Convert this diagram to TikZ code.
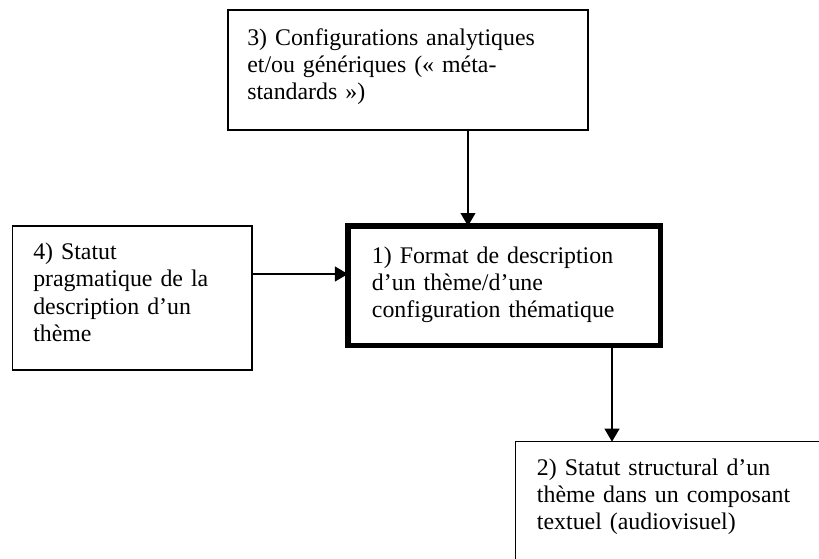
\documentclass[tikz,border=0pt]{standalone}
\usepackage{fontspec}
\setmainfont{Liberation Serif}
\usetikzlibrary{arrows.meta}
\tikzset{
  box/.style={draw, line width=1pt, inner sep=0pt, outer sep=0pt},
  mainbox/.style={draw, line width=4.1pt, inner sep=0pt, outer sep=0pt},
  txt/.style={anchor=base west, inner sep=0pt, align=left, text width=300pt,
    font=\fontsize{17.9pt}{20.6pt}\selectfont},
  arr/.style={line width=1.5pt, -{Triangle[length=9.75pt,width=11pt]}}
}
\begin{document}
\begin{tikzpicture}[x=0.75pt,y=-0.75pt]
\useasboundingbox (0,0) rectangle (819,558);
\clip (0,0) rectangle (819,558);
% boxes
\node[box, minimum width=270pt, minimum height=90pt] (b3) at (408,70) {};
\node[box, minimum width=179.8pt, minimum height=108pt] (b4) at (132.15,298) {};
\node[mainbox, minimum width=234.4pt, minimum height=89.6pt] (b1) at (504.25,285.75) {};
\node[box, minimum width=235.7pt, minimum height=96.2pt] (b2) at (672.85,505.85) {};
% texts
\node[txt] (t3) at (247,45) {3) Configurations analytiques\\et/ou génériques («~méta-\\standards~»)};
\node[txt] (t4) at (33,259.5) {4) Statut\\pragmatique de la\\description d’un\\thème};
\node[txt] (t1) at (371.7,263) {1) Format de description\\d’un thème/d’une\\configuration thématique};
\node[txt] (t2) at (536.7,475) {2) Statut structural d’un\\thème dans un composant\\textuel (audiovisuel)};
% connectors
\coordinate (c31) at (468,0);
\coordinate (c41) at (0,274);
\coordinate (c12) at (612,0);
\draw[arr] (c31 |- b3.south) -- (c31 |- b1.north);
\draw[arr] (b4.east |- c41) -- (b1.west |- c41);
\draw[arr] (c12 |- b1.south) -- (c12 |- b2.north);
\end{tikzpicture}
\end{document}
